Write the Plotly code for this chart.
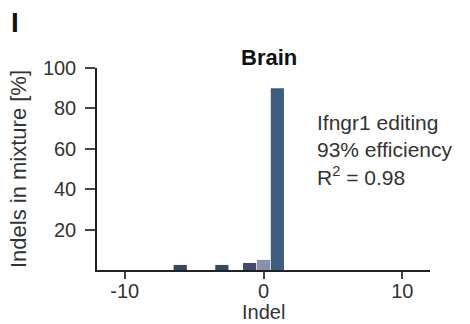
import plotly.graph_objects as go

indels = [-6, -3, -1, 0, 1]
values = [2.5, 2.5, 3.5, 5.0, 90.0]
colors = ["#34495e", "#34495e", "#434a6e", "#8a90aa", "#3f5e7f"]

x_ticks = [-10, 0, 10]
x_tick_labels = ["-10", "0", "10"]
y_ticks = [20, 40, 60, 80, 100]

fig = go.Figure(go.Bar(x=indels, y=values, marker=dict(color=colors, line=dict(width=0)), width=0.95))

font = "Liberation Sans, Arial, sans-serif"
L, R, T, B = 97, 40, 68, 54
fig.update_layout(
    width=470, height=324,
    margin=dict(l=L, r=R, t=T, b=B, autoexpand=False),
    paper_bgcolor="white", plot_bgcolor="white",
    showlegend=False,
    font=dict(family=font, size=20, color="#222"),
)
fig.update_xaxes(range=[-12, 12], tickvals=x_ticks, ticktext=x_tick_labels,
                 ticks="outside", ticklen=7, tickwidth=1.5, ticklabelstandoff=-5,
                 showline=True, linecolor="#222", linewidth=1.5, showgrid=False, zeroline=False,
                 automargin=False,
                 tickfont=dict(size=20, color="#333"))
fig.update_yaxes(range=[0, 100], tickvals=y_ticks, ticks="outside", ticklen=10, tickwidth=1.5,
                 showline=True, linecolor="#222", linewidth=1.5, showgrid=False, zeroline=False,
                 automargin=False, ticklabelstandoff=5,
                 title=dict(text="Indels in mixture [%]", standoff=10, font=dict(size=22, color="#333")),
                 tickfont=dict(size=20, color="#333"))

fig.add_annotation(text="Indel", xref="paper", yref="paper", x=0.5, y=-0.21,
                   xanchor="center", yanchor="middle", showarrow=False,
                   font=dict(size=20, color="#333"))
fig.add_annotation(text="<b>Brain</b>", xref="paper", yref="paper", x=0.5165, y=1.054,
                   xanchor="center", yanchor="middle", showarrow=False,
                   font=dict(size=22, color="#111"))
fig.add_annotation(text="<b>I</b>", xref="paper", yref="paper", x=-0.246, y=1.223,
                   xanchor="center", yanchor="middle", showarrow=False,
                   font=dict(size=28, color="#111"))
fig.add_annotation(text="Ifngr1 editing<br>93% efficiency<br>R<sup>2</sup> = 0.98",
                   xref="paper", yref="paper", x=0.655, y=0.594, xanchor="left", yanchor="middle",
                   align="left", showarrow=False, font=dict(size=21, color="#333"))

fig.write_html("out.html", config={"displayModeBar": False},
               post_script="document.body.style.margin='0px';")
